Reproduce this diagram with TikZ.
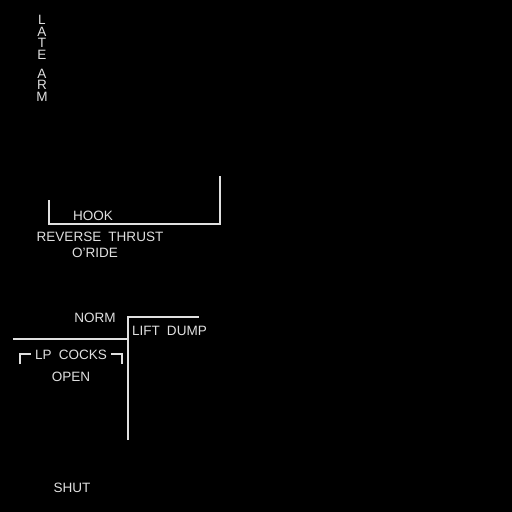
\documentclass[tikz,border=0pt]{standalone}
\usepackage{fontspec}
\setmainfont{Liberation Sans}
\newfontfamily\panelfont[WordSpace=1.9]{Liberation Sans}
\begin{document}
\begin{tikzpicture}[x=0.02cm,y=-0.02cm,line width = 1.2pt,
  lbl/.style={text=white!88!black,font=\panelfont\fontsize{7.7}{9}\selectfont,inner sep=0pt}]
\fill[black] (0,0) rectangle (512,512);
\useasboundingbox (0,0) rectangle (512,512);
\begin{scope}[color=white!88!black]
\draw [] (49,200) -- (49,224) -- (220,224) -- (220,176);
\draw [] (13,339) -- (128,339);
\draw [] (128,440) -- (128,317) -- (199,317);
\draw [] (20,364) -- (20,354) -- (31,354);
\draw [] (111,354) -- (122,354) -- (122,364);
\end{scope}
\node[lbl,align=center,font=\panelfont\fontsize{7.7}{6.55}\selectfont,anchor=north] (latearm) at (42,14.5) {L\\A\\T\\E\\[4.3pt]A\\R\\M};
\node[lbl] (hook) at (93,216) {HOOK};
\node[lbl] (revthrust) at (100,237) {REVERSE THRUST};
\node[lbl] (oride) at (95,253) {O’RIDE};
\node[lbl] (norm) at (95,318) {NORM};
\node[lbl,anchor=west] (liftdump) at (131,331) {LIFT DUMP};
\node[lbl] (lpcocks) at (71,355) {LP COCKS};
\node[lbl] (open) at (71,377) {OPEN};
\node[lbl] (shut) at (72,488) {SHUT};
\end{tikzpicture}
\end{document}
